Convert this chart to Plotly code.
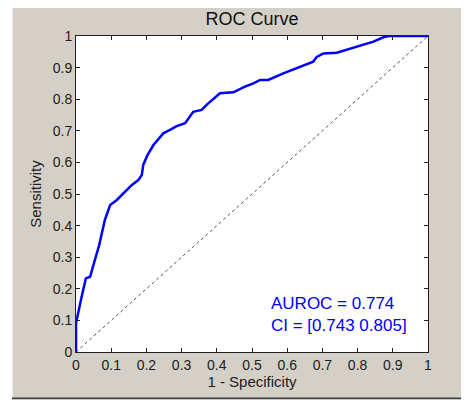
import plotly.graph_objects as go

# ROC curve points (false positive rate, true positive rate)
fpr = [0, 0, 0.016, 0.028, 0.040, 0.054, 0.066, 0.082, 0.097, 0.116, 0.139, 0.158,
       0.177, 0.187, 0.191, 0.203, 0.220, 0.248, 0.267, 0.286, 0.310, 0.333, 0.357,
       0.371, 0.409, 0.447, 0.480, 0.504, 0.523, 0.546, 0.589, 0.627, 0.674, 0.684,
       0.703, 0.741, 0.769, 0.807, 0.845, 0.873, 0.888, 1.0]
tpr = [0, 0.091, 0.175, 0.233, 0.238, 0.296, 0.339, 0.418, 0.465, 0.481, 0.507, 0.528,
       0.544, 0.560, 0.592, 0.623, 0.655, 0.692, 0.703, 0.715, 0.724, 0.760, 0.766,
       0.782, 0.819, 0.822, 0.840, 0.850, 0.861, 0.861, 0.882, 0.898, 0.919, 0.934,
       0.945, 0.947, 0.956, 0.968, 0.982, 0.996, 1.0, 1.0]

diag_x = [0, 1]
diag_y = [0, 1]

tick_vals = [0, 0.1, 0.2, 0.3, 0.4, 0.5, 0.6, 0.7, 0.8, 0.9, 1]
tick_text = ["0", "0.1", "0.2", "0.3", "0.4", "0.5", "0.6", "0.7", "0.8", "0.9", "1"]

auroc_text = "AUROC = 0.774"
ci_text = "CI = [0.743 0.805]"

FONT = "Liberation Sans, Arial, Helvetica, sans-serif"
GRAY = "#d4d0c8"

fig = go.Figure()
fig.add_trace(go.Scatter(x=diag_x, y=diag_y, mode="lines",
                         line=dict(color="#505050", width=1, dash="3px,3px"),
                         hoverinfo="skip", showlegend=False))
fig.add_trace(go.Scatter(x=fpr, y=tpr, mode="lines",
                         line=dict(color="#0000ff", width=2.5),
                         showlegend=False))

axis_common = dict(
    range=[0, 1], tickmode="array", tickvals=tick_vals, ticktext=tick_text,
    showgrid=False, zeroline=False, showline=True, linecolor="#202020", linewidth=1,
    mirror="ticks", ticks="inside", ticklen=4, tickcolor="#202020",
    tickfont=dict(family=FONT, size=14, color="#202020"),
)

fig.update_layout(
    width=461, height=395, autosize=False,
    margin=dict(l=68, r=41, t=28, b=51),
    paper_bgcolor=GRAY, plot_bgcolor="white",
    title=dict(text="ROC Curve", x=244 / 461, xanchor="center",
               y=1 - 11 / 395, yanchor="middle",
               font=dict(family=FONT, size=18, color="#111111")),
    xaxis=dict(**axis_common,
               title=dict(text="1 - Specificity", standoff=4,
                          font=dict(family=FONT, size=15, color="#202020"))),
    yaxis=dict(**axis_common,
               title=dict(text="Sensitivity", standoff=7,
                          font=dict(family=FONT, size=15, color="#202020"))),
    font=dict(family=FONT),
)

fig.add_annotation(x=0.549, y=0.118, xref="x", yref="y",
                   text=auroc_text + "<br>" + ci_text,
                   showarrow=False, xanchor="left", yanchor="middle", align="left",
                   font=dict(family=FONT, size=17, color="#0000ff"))

# window frame: white strip at left, light edge, dark bottom border line, white below
fig.add_shape(type="rect", xref="paper", yref="paper",
              x0=-0.3, x1=-0.1818, y0=-0.3, y1=1.3, fillcolor="white", line_width=0)
fig.add_shape(type="rect", xref="paper", yref="paper",
              x0=-0.1818, x1=-0.1790, y0=-0.1440, y1=1.3, fillcolor="#eeece8", line_width=0)
fig.add_shape(type="rect", xref="paper", yref="paper",
              x0=-0.1818, x1=1.3, y0=-0.1503, y1=-0.1440, fillcolor="#404040", line_width=0)
fig.add_shape(type="rect", xref="paper", yref="paper",
              x0=-0.3, x1=1.3, y0=-0.3, y1=-0.1503, fillcolor="white", line_width=0)

fig.write_html("out.html")
